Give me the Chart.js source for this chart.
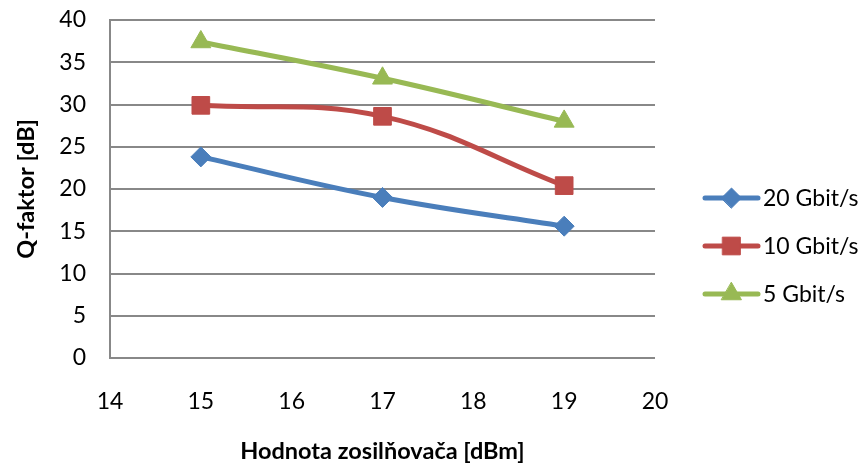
<!DOCTYPE html>
<html>
<head>
<meta charset="utf-8">
<script src="https://cdn.jsdelivr.net/npm/chart.js@4/dist/chart.umd.min.js"></script>
<style>
  html, body { margin: 0; padding: 0; background: #fff; }
  #wrap { width: 867px; height: 470px; }
</style>
</head>
<body>
<div id="wrap"><canvas id="chart" width="867" height="470"></canvas></div>
<script>
// amplifier output power [dBm]
const gain = [15, 17, 19];
// Q-factor [dB] per bit rate
const q20 = [23.8, 19.0, 15.6];
const q10 = [29.9, 28.6, 20.4];
const q5 = [37.4, 33.1, 28.0];
const seriesNames = ['20 Gbit/s', '10 Gbit/s', '5 Gbit/s'];

const FONT = 'Lato, "Open Sans", sans-serif';
const GRID = '#888888';
const TXT = 23;
const TITLE = 23.5;

const toPoints = (vals) => vals.map((v, i) => ({ x: gain[i], y: v }));

function series(label, vals, color, style, radius) {
  return {
    label,
    data: toPoints(vals),
    borderColor: color,
    backgroundColor: color,
    borderWidth: 5,
    tension: 0.4,
    pointStyle: style,
    pointRadius: radius,
    pointHoverRadius: radius,
    pointBorderWidth: 1,
    pointBorderColor: color,
    pointBackgroundColor: color
  };
}

// legend on the right: line with the marker drawn across it
const sideLegend = {
  id: 'sideLegend',
  afterDraw(chart) {
    const ctx = chart.ctx;
    const x0 = 705, x1 = 758, top = 198, gap = 48;
    ctx.save();
    chart.data.datasets.forEach((ds, i) => {
      const y = top + i * gap;
      ctx.strokeStyle = ds.borderColor;
      ctx.lineWidth = 5;
      ctx.lineCap = 'round';
      ctx.beginPath();
      ctx.moveTo(x0, y);
      ctx.lineTo(x1, y);
      ctx.stroke();
      ctx.lineWidth = 1;
      ctx.fillStyle = ds.backgroundColor;
      Chart.helpers.drawPoint(ctx, { pointStyle: ds.pointStyle, radius: ds.pointRadius, borderWidth: 1 }, (x0 + x1) / 2, y);
      ctx.fillStyle = '#000';
      ctx.font = TXT + 'px ' + FONT;
      ctx.textBaseline = 'middle';
      ctx.textAlign = 'left';
      ctx.fillText(ds.label, 763, y + 1);
    });
    ctx.restore();
  }
};

new Chart(document.getElementById('chart'), {
  type: 'line',
  data: {
    datasets: [
      series(seriesNames[0], q20, '#4A7EBB', 'rectRot', 10),
      series(seriesNames[1], q10, '#BE4B48', 'rect', 12.5),
      series(seriesNames[2], q5, '#98B954', 'triangle', 11.5)
    ]
  },
  options: {
    responsive: false,
    animation: false,
    layout: { padding: { top: 20, right: 212, left: 0, bottom: 0 } },
    plugins: {
      legend: { display: false },
      tooltip: { enabled: false }
    },
    scales: {
      x: {
        type: 'linear',
        min: 14,
        max: 20,
        ticks: { stepSize: 1, color: '#000', font: { family: FONT, size: TXT }, padding: 30 },
        grid: { display: false, drawTicks: false },
        border: { display: false },
        title: {
          display: true,
          text: 'Hodnota zosilňovača [dBm]',
          color: '#000',
          font: { family: FONT, size: TITLE, weight: 'bold' },
          padding: { top: 20 }
        },
        afterFit(axis) { axis.height = 112; axis.paddingLeft = 0; axis.paddingRight = 0; }
      },
      y: {
        min: 0,
        max: 40,
        ticks: { stepSize: 5, color: '#000', font: { family: FONT, size: TXT }, padding: 24 },
        grid: { color: GRID, lineWidth: 2, drawTicks: false },
        border: { display: true, color: GRID, width: 2 },
        title: {
          display: true,
          text: 'Q-faktor [dB]',
          color: '#000',
          font: { family: FONT, size: TITLE, weight: 'bold' },
          padding: { top: 12 }
        },
        afterFit(axis) { axis.width = 110; axis.paddingTop = 0; axis.paddingBottom = 0; }
      }
    }
  },
  plugins: [sideLegend]
});
</script>
</body>
</html>
